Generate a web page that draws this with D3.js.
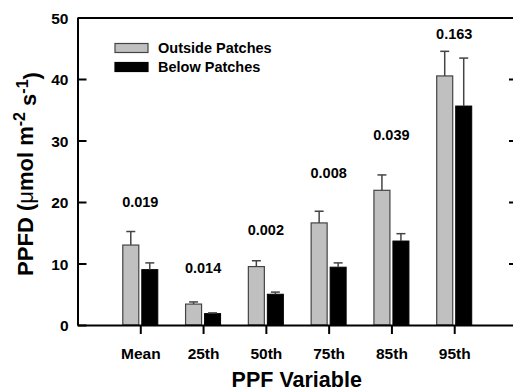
<!DOCTYPE html>
<html>
<head>
<meta charset="utf-8">
<script src="https://cdn.jsdelivr.net/npm/d3@7"></script>
<style>
  body { margin: 0; background: #fff; }
  svg { font-family: "Liberation Sans", Arial, sans-serif; font-weight: bold; }
  .axis path, .axis line { stroke: #000; stroke-width: 2; }
  .axis text { font-family: "Liberation Sans", Arial, sans-serif; font-size: 15.5px; font-weight: bold; fill: #000; }
</style>
</head>
<body>
<div id="chart"></div>
<script>
// data
var categories = ["Mean", "25th", "50th", "75th", "85th", "95th"];
var outside = [13.0, 3.4, 9.5, 16.6, 21.9, 40.5];
var outsideErr = [2.2, 0.35, 0.95, 1.9, 2.5, 4.0];
var below = [9.0, 1.85, 5.0, 9.4, 13.65, 35.6];
var belowErr = [1.1, 0.12, 0.35, 0.7, 1.2, 7.8];
var pValues = ["0.019", "0.014", "0.002", "0.008", "0.039", "0.163"];
var pLabelY = [20.05, 9.3, 15.55, 24.8, 30.9, 47.3];
var yTicks = [0, 10, 20, 30, 40, 50];

function init() {
    const w = 513;
    const h = 391;
    const left = 77.5, right = 517, top = 17.5, bottom = 325;

    var svg = d3.select("#chart").append("svg").attr("width", w).attr("height", h);

    // Scales
    var xScale = d3.scaleLinear().domain([0, categories.length + 1]).range([left, right]);
    var yScale = d3.scaleLinear().domain([0, 50]).range([bottom, top]);
    var barW = 16, gap = 1.5;

    // Bars
    var groups = svg.append("g").selectAll("g")
        .data(categories)
        .enter().append("g");

    groups.append("rect")
        .attr("x", (d, i) => xScale(i + 1) - gap - barW)
        .attr("y", (d, i) => yScale(outside[i]))
        .attr("width", barW)
        .attr("height", (d, i) => bottom - yScale(outside[i]))
        .attr("fill", "#c0c0c0")
        .attr("stroke", "#444")
        .attr("stroke-width", 1.2);

    groups.append("rect")
        .attr("x", (d, i) => xScale(i + 1) + gap)
        .attr("y", (d, i) => yScale(below[i]))
        .attr("width", barW)
        .attr("height", (d, i) => bottom - yScale(below[i]))
        .attr("fill", "#000")
        .attr("stroke", "#000")
        .attr("stroke-width", 1);

    // Error bars (upper only)
    function errBar(vals, errs, offset) {
        var g = svg.append("g").attr("stroke", "#444").attr("stroke-width", 1.5);
        g.selectAll("line.v").data(categories).enter().append("line")
            .attr("x1", (d, i) => xScale(i + 1) + offset)
            .attr("x2", (d, i) => xScale(i + 1) + offset)
            .attr("y1", (d, i) => yScale(vals[i]))
            .attr("y2", (d, i) => yScale(vals[i] + errs[i]));
        g.selectAll("line.c").data(categories).enter().append("line")
            .attr("x1", (d, i) => xScale(i + 1) + offset - 4.5)
            .attr("x2", (d, i) => xScale(i + 1) + offset + 4.5)
            .attr("y1", (d, i) => yScale(vals[i] + errs[i]))
            .attr("y2", (d, i) => yScale(vals[i] + errs[i]));
    }
    errBar(outside, outsideErr, -gap - barW / 2);
    errBar(below, belowErr, gap + barW / 2);

    // p-value labels
    svg.append("g").selectAll("text")
        .data(pValues)
        .enter().append("text")
        .attr("x", (d, i) => xScale(i + 1))
        .attr("y", (d, i) => yScale(pLabelY[i]))
        .attr("dy", "0.36em")
        .attr("text-anchor", "middle")
        .style("font-size", "14.5px")
        .text(d => d);

    // Axes
    var yAxis = d3.axisLeft(yScale).tickValues(yTicks).tickSizeInner(-9).tickSizeOuter(0).tickPadding(9);
    svg.append("g").attr("class", "axis")
        .attr("transform", "translate(" + left + ",0)")
        .call(yAxis)
        .selectAll("text").attr("dy", "0.36em");

    var yAxisR = d3.axisRight(yScale).tickValues(yTicks.slice(1, 5)).tickSizeInner(-8).tickSizeOuter(0).tickFormat("");
    svg.append("g").attr("class", "axis")
        .attr("transform", "translate(" + right + ",0)")
        .call(yAxisR);

    var xAxis = d3.axisBottom(xScale)
        .tickValues(d3.range(1, categories.length + 1))
        .tickFormat(i => categories[i - 1])
        .tickSizeInner(9).tickSizeOuter(0).tickPadding(14);
    svg.append("g").attr("class", "axis")
        .attr("transform", "translate(0," + bottom + ")")
        .call(xAxis);

    var xAxisTop = d3.axisTop(xScale).tickValues([]).tickSizeOuter(0);
    svg.append("g").attr("class", "axis")
        .attr("transform", "translate(0," + top + ")")
        .call(xAxisTop);

    // Axis titles
    svg.append("text")
        .attr("x", (left + 517) / 2 - 0.5)
        .attr("y", 387)
        .attr("text-anchor", "middle")
        .style("font-size", "21.5px")
        .text("PPF Variable");

    var yt = svg.append("text")
        .attr("transform", "translate(33,174) rotate(-90)")
        .attr("text-anchor", "middle")
        .style("font-size", "22px");
    yt.append("tspan").text("PPFD (");
    yt.append("tspan").style("font-weight", "normal").text("\u03bc");
    yt.append("tspan").text("mol m");
    yt.append("tspan").attr("dy", "-0.5em").style("font-size", "16px").text("-2");
    yt.append("tspan").attr("dy", "0.5em").text(" s");
    yt.append("tspan").attr("dy", "-0.5em").style("font-size", "16px").text("-1");
    yt.append("tspan").attr("dy", "0.5em").text(")");

    // Legend
    var legend = [["Outside Patches", "#c0c0c0", "#444"], ["Below Patches", "#000", "#000"]];
    var lg = svg.append("g").selectAll("g").data(legend).enter().append("g")
        .attr("transform", (d, i) => "translate(115," + (43.5 + i * 19) + ")");
    lg.append("rect").attr("width", 33).attr("height", 9)
        .attr("fill", d => d[1]).attr("stroke", d => d[2]).attr("stroke-width", 1.2);
    lg.append("text").attr("x", 43).attr("y", 4.5).attr("dy", "0.36em")
        .style("font-size", "14.5px").text(d => d[0]);
}

window.onload = init();
</script>
</body>
</html>
